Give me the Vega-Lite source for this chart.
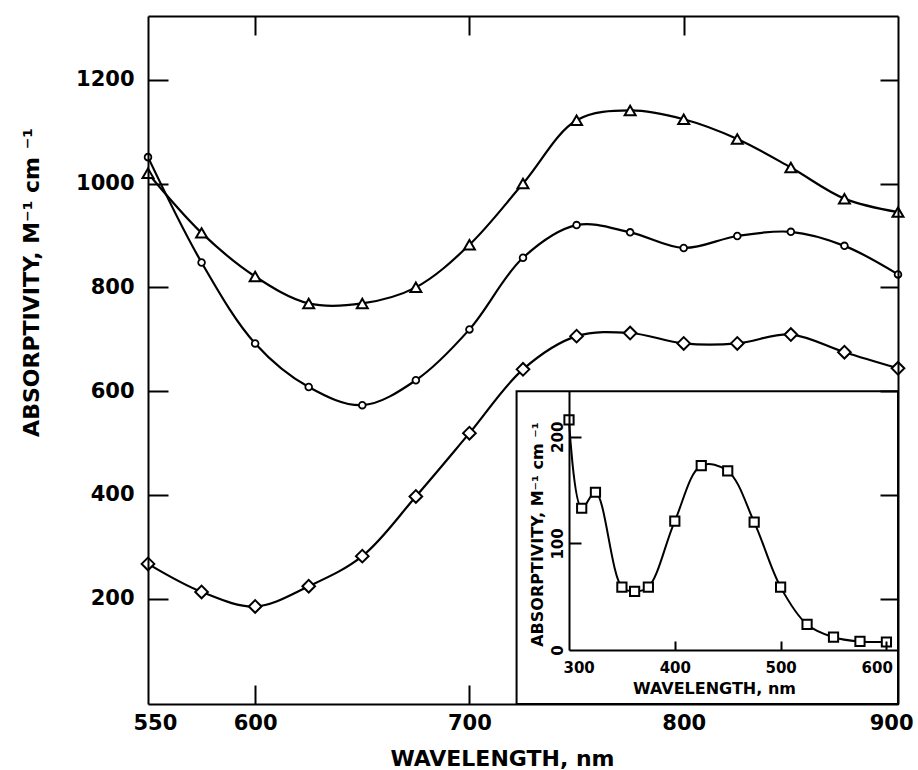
{
  "$schema": "https://vega.github.io/schema/vega-lite/v6.json",
  "width": 750,
  "height": 688,
  "autosize": {"type": "none"},
  "padding": {"left": 148, "top": 16, "right": 20, "bottom": 66},
  "background": "white",
  "config": {
    "view": {"stroke": null},
    "font": "DejaVu Sans",
    "axis": {
      "grid": false,
      "domainColor": "black",
      "domainWidth": 2,
      "tickColor": "black",
      "tickWidth": 2,
      "labelColor": "black",
      "titleColor": "black",
      "labelFont": "DejaVu Sans",
      "titleFont": "DejaVu Sans",
      "labelFontWeight": "bold",
      "titleFontWeight": "bold",
      "labelOverlap": false,
      "format": "d"
    }
  },
  "datasets": {
    "spectra": [
      {"series": "triangle", "wavelength": 550, "absorptivity": 1020},
      {"series": "triangle", "wavelength": 575, "absorptivity": 905},
      {"series": "triangle", "wavelength": 600, "absorptivity": 821},
      {"series": "triangle", "wavelength": 625, "absorptivity": 769},
      {"series": "triangle", "wavelength": 650, "absorptivity": 769},
      {"series": "triangle", "wavelength": 675, "absorptivity": 800},
      {"series": "triangle", "wavelength": 700, "absorptivity": 882},
      {"series": "triangle", "wavelength": 725, "absorptivity": 1000},
      {"series": "triangle", "wavelength": 750, "absorptivity": 1122},
      {"series": "triangle", "wavelength": 775, "absorptivity": 1141},
      {"series": "triangle", "wavelength": 800, "absorptivity": 1124},
      {"series": "triangle", "wavelength": 825, "absorptivity": 1086},
      {"series": "triangle", "wavelength": 850, "absorptivity": 1031},
      {"series": "triangle", "wavelength": 875, "absorptivity": 971},
      {"series": "triangle", "wavelength": 900, "absorptivity": 945},
      {"series": "circle", "wavelength": 550, "absorptivity": 1051},
      {"series": "circle", "wavelength": 575, "absorptivity": 848},
      {"series": "circle", "wavelength": 600, "absorptivity": 692},
      {"series": "circle", "wavelength": 625, "absorptivity": 608},
      {"series": "circle", "wavelength": 650, "absorptivity": 573},
      {"series": "circle", "wavelength": 675, "absorptivity": 621},
      {"series": "circle", "wavelength": 700, "absorptivity": 719},
      {"series": "circle", "wavelength": 725, "absorptivity": 857},
      {"series": "circle", "wavelength": 750, "absorptivity": 920},
      {"series": "circle", "wavelength": 775, "absorptivity": 906},
      {"series": "circle", "wavelength": 800, "absorptivity": 876},
      {"series": "circle", "wavelength": 825, "absorptivity": 899},
      {"series": "circle", "wavelength": 850, "absorptivity": 907},
      {"series": "circle", "wavelength": 875, "absorptivity": 880},
      {"series": "circle", "wavelength": 900, "absorptivity": 825},
      {"series": "diamond", "wavelength": 550, "absorptivity": 267},
      {"series": "diamond", "wavelength": 575, "absorptivity": 213},
      {"series": "diamond", "wavelength": 600, "absorptivity": 185},
      {"series": "diamond", "wavelength": 625, "absorptivity": 224},
      {"series": "diamond", "wavelength": 650, "absorptivity": 282},
      {"series": "diamond", "wavelength": 675, "absorptivity": 397},
      {"series": "diamond", "wavelength": 700, "absorptivity": 519},
      {"series": "diamond", "wavelength": 725, "absorptivity": 642},
      {"series": "diamond", "wavelength": 750, "absorptivity": 706},
      {"series": "diamond", "wavelength": 775, "absorptivity": 712},
      {"series": "diamond", "wavelength": 800, "absorptivity": 692},
      {"series": "diamond", "wavelength": 825, "absorptivity": 692},
      {"series": "diamond", "wavelength": 850, "absorptivity": 709},
      {"series": "diamond", "wavelength": 875, "absorptivity": 675},
      {"series": "diamond", "wavelength": 900, "absorptivity": 644}
    ],
    "inset": [
      {"wavelength": 300, "absorptivity": 216},
      {"wavelength": 312, "absorptivity": 133},
      {"wavelength": 325, "absorptivity": 148},
      {"wavelength": 350, "absorptivity": 59},
      {"wavelength": 362, "absorptivity": 55},
      {"wavelength": 375, "absorptivity": 59},
      {"wavelength": 400, "absorptivity": 121},
      {"wavelength": 425, "absorptivity": 173},
      {"wavelength": 450, "absorptivity": 168},
      {"wavelength": 475, "absorptivity": 120},
      {"wavelength": 500, "absorptivity": 59},
      {"wavelength": 525, "absorptivity": 24},
      {"wavelength": 550, "absorptivity": 12},
      {"wavelength": 575, "absorptivity": 8},
      {"wavelength": 600, "absorptivity": 7.5}
    ],
    "insetBox": [
      {"x1": 722, "x2": 900, "y1": -3, "y2": 600}
    ]
  },
  "layer": [
    {
      "data": {"name": "insetBox"},
      "mark": {"type": "rect", "filled": false, "color": "black", "strokeWidth": 2, "opacity": 1},
      "encoding": {
        "x": {
          "field": "x1", "type": "quantitative",
          "scale": {"domain": [550, 900], "nice": false, "zero": false},
          "axis": {"orient": "bottom", "zindex": 1, "values": [600, 700], "tickSize": -19, "labels": false, "domain": false, "title": null}
        },
        "x2": {"field": "x2"},
        "y": {
          "field": "y1", "type": "quantitative",
          "scale": {"domain": [-3, 1323], "nice": false, "zero": false},
          "axis": {"orient": "left", "zindex": 1, "values": [200, 400, 600, 800, 1000, 1200], "tickSize": -20, "labels": false, "domain": false, "title": null}
        },
        "y2": {"field": "y2"}
      }
    },
    {
      "data": {"name": "spectra"},
      "mark": {"type": "line", "color": "black", "strokeWidth": 2.2, "interpolate": "catmull-rom"},
      "encoding": {
        "x": {
          "field": "wavelength", "type": "quantitative",
          "scale": {"domain": [550, 900], "nice": false, "zero": false},
          "axis": {
            "orient": "bottom",
            "zindex": 1,
            "values": [550, 600, 700, 800, 900],
            "ticks": false,
            "labelPadding": 25,
            "labelBaseline": "alphabetic",
            "labelFontSize": 21,
            "labelFlush": true,
            "labelFlushOffset": 15,
            "title": "WAVELENGTH, nm",
            "titleFontSize": 22,
            "titleX": 354,
            "titleY": 61,
            "titleAlign": "center",
            "titleBaseline": "alphabetic",
            "titleAngle": 0
          }
        },
        "y": {
          "field": "absorptivity", "type": "quantitative",
          "scale": {"domain": [-3, 1323], "nice": false, "zero": false},
          "axis": {
            "orient": "left",
            "zindex": 1,
            "values": [200, 400, 600, 800, 1000, 1200],
            "ticks": false,
            "labelPadding": 14,
            "labelFontSize": 21,
            "labelAlign": "right",
            "labelBaseline": "middle",
            "title": "ABSORPTIVITY, M⁻¹ cm ⁻¹",
            "titleFontSize": 22,
            "titleAngle": 270,
            "titleX": -110,
            "titleY": 266,
            "titleAlign": "center",
            "titleBaseline": "alphabetic"
          }
        },
        "detail": {"field": "series"}
      }
    },
    {
      "data": {"name": "spectra"},
      "transform": [{"filter": "datum.series === 'triangle'"}],
      "mark": {"type": "point", "shape": "triangle-up", "size": 120, "filled": true, "fill": "white", "stroke": "black", "strokeWidth": 2, "opacity": 1},
      "encoding": {
        "x": {
          "field": "wavelength", "type": "quantitative",
          "scale": {"domain": [550, 900], "nice": false, "zero": false},
          "axis": {"orient": "top", "zindex": 1, "values": [600, 700, 800], "tickSize": -19, "labels": false, "title": null}
        },
        "y": {
          "field": "absorptivity", "type": "quantitative",
          "scale": {"domain": [-3, 1323], "nice": false, "zero": false},
          "axis": {"orient": "right", "zindex": 1, "values": [200, 400, 600, 800, 1000, 1200], "tickSize": -18, "labels": false, "title": null}
        }
      }
    },
    {
      "data": {"name": "spectra"},
      "transform": [{"filter": "datum.series === 'circle'"}],
      "mark": {"type": "point", "shape": "circle", "size": 45, "filled": true, "fill": "white", "stroke": "black", "strokeWidth": 1.8, "opacity": 1},
      "encoding": {
        "x": {"field": "wavelength", "type": "quantitative", "scale": {"domain": [550, 900], "nice": false, "zero": false}, "axis": null},
        "y": {"field": "absorptivity", "type": "quantitative", "scale": {"domain": [-3, 1323], "nice": false, "zero": false}, "axis": null}
      }
    },
    {
      "data": {"name": "spectra"},
      "transform": [{"filter": "datum.series === 'diamond'"}],
      "mark": {"type": "point", "shape": "diamond", "size": 160, "filled": true, "fill": "white", "stroke": "black", "strokeWidth": 2, "opacity": 1},
      "encoding": {
        "x": {"field": "wavelength", "type": "quantitative", "scale": {"domain": [550, 900], "nice": false, "zero": false}, "axis": null},
        "y": {"field": "absorptivity", "type": "quantitative", "scale": {"domain": [-3, 1323], "nice": false, "zero": false}, "axis": null}
      }
    },
    {
      "data": {"name": "inset"},
      "mark": {"type": "line", "color": "black", "strokeWidth": 2, "interpolate": "catmull-rom"},
      "encoding": {
        "x": {
          "field": "wavelength", "type": "quantitative",
          "scale": {"domain": [300, 610], "range": [421, 749], "nice": false, "zero": false},
          "axis": {
            "orient": "bottom",
            "zindex": 1,
            "offset": -54,
            "values": [300, 400, 500, 600],
            "ticks": false,
            "labelPadding": 22,
            "labelBaseline": "alphabetic",
            "labelFontSize": 15,
            "labelFlush": 12,
            "labelFlushOffset": 6,
            "title": "WAVELENGTH, nm",
            "titleFontSize": 16,
            "titleX": 566,
            "titleY": 43,
            "titleAlign": "center",
            "titleBaseline": "alphabetic",
            "titleAngle": 0
          }
        },
        "y": {
          "field": "absorptivity", "type": "quantitative",
          "scale": {"domain": [0, 243], "range": [634, 375], "nice": false, "zero": false},
          "axis": {
            "orient": "left",
            "zindex": 1,
            "offset": -421,
            "values": [0, 100, 200],
            "ticks": false,
            "labelPadding": 7,
            "labelFontSize": 15,
            "labelAngle": -90,
            "labelAlign": "center",
            "labelBaseline": "alphabetic",
            "title": "ABSORPTIVITY, M⁻¹ cm ⁻¹",
            "titleFontSize": 16,
            "titleAngle": 270,
            "titleX": -27,
            "titleY": 518,
            "titleAlign": "center",
            "titleBaseline": "alphabetic"
          }
        }
      }
    },
    {
      "data": {"name": "inset"},
      "mark": {"type": "point", "shape": "square", "size": 85, "filled": true, "fill": "white", "stroke": "black", "strokeWidth": 2, "opacity": 1},
      "encoding": {
        "x": {
          "field": "wavelength", "type": "quantitative",
          "scale": {"domain": [300, 610], "range": [421, 749], "nice": false, "zero": false},
          "axis": {"orient": "bottom", "zindex": 1, "offset": -54, "values": [400, 500, 600], "tickSize": -9, "labels": false, "domain": false, "title": null}
        },
        "y": {
          "field": "absorptivity", "type": "quantitative",
          "scale": {"domain": [0, 243], "range": [634, 375], "nice": false, "zero": false},
          "axis": {"orient": "left", "zindex": 1, "offset": -421, "values": [100, 200], "tickSize": -12, "labels": false, "domain": false, "title": null}
        }
      }
    }
  ],
  "resolve": {
    "scale": {"x": "independent", "y": "independent"},
    "axis": {"x": "independent", "y": "independent"}
  }
}
